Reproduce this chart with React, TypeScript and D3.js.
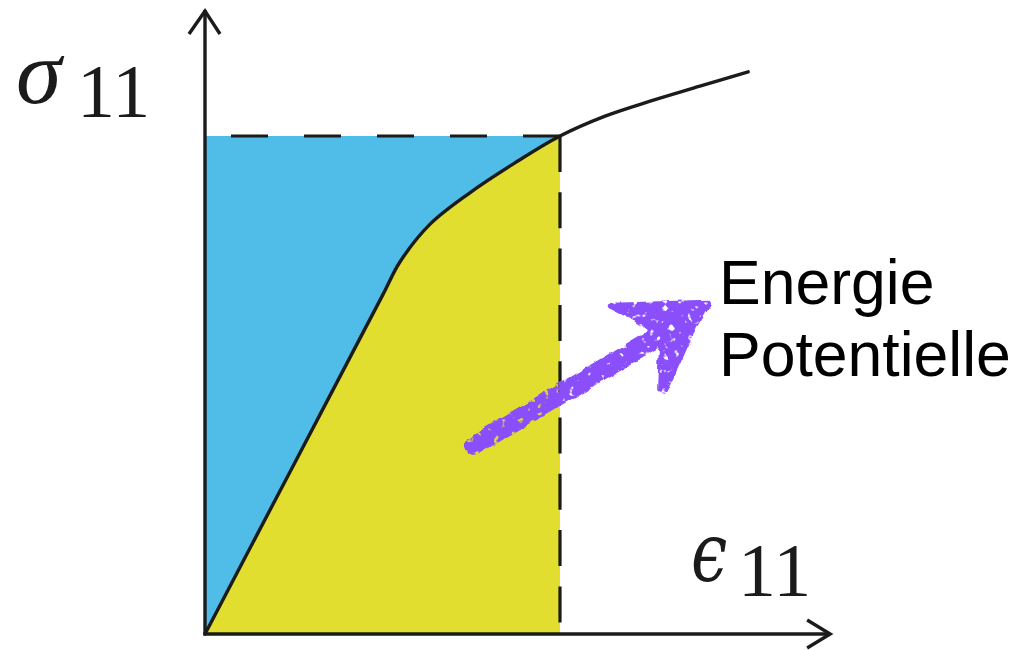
import React from "react";
import * as d3 from "d3";

// Stress–strain curve (normalised units: yield point = (1, 1))
const strain = [0, 0.25, 0.5, 0.549, 0.634, 0.746, 0.873, 1, 1.127, 1.254, 1.394, 1.53];
const stress = [0, 0.34, 0.68, 0.747, 0.823, 0.886, 0.946, 1, 1.04, 1.07, 1.1, 1.129];
const yieldStrain = 1;
const yieldStress = 1;
const axisMaxX = 1.761;
const axisMaxY = 1.253;

// Annotation arrow (data coordinates)
const arrowShaft = [[0.76, 0.38], [1.268, 0.594]];
const arrowHead = [
  [1.146, 0.659], [1.417, 0.665], [1.377, 0.618], [1.338, 0.556], [1.293, 0.488],
  [1.282, 0.494], [1.287, 0.57], [1.259, 0.61], [1.214, 0.635],
];
const annotationLines = ["Energie", "Potentielle"];

const W = 1032;
const H = 650;
const x = d3.scaleLinear().domain([0, 1]).range([205, 560]);
const y = d3.scaleLinear().domain([0, 1]).range([634, 136]);

export default function App() {
  const pts: [number, number][] = strain.map((s, i) => [s, stress[i]]);
  const curve = d3.curveCatmullRom.alpha(0.5);
  const line = d3.line<[number, number]>().x(d => x(d[0])).y(d => y(d[1])).curve(curve);
  const area = d3.area<[number, number]>().x(d => x(d[0])).y0(y(0)).y1(d => y(d[1])).curve(curve);
  const under = pts.filter(p => p[0] <= yieldStrain);
  const ink = "#1b1b1b";
  const purple = "#8a4ffb";
  const headPath = "M" + arrowHead.map(p => `${x(p[0])},${y(p[1])}`).join("L") + "Z";
  const x0 = x(0), y0 = y(0);
  const xT = x(axisMaxX), yT = y(axisMaxY);
  return (
    <svg width={W} height={H} style={{ position: "absolute", left: 0, top: 0, background: "#fff" }}>
      <defs>
        <filter id="rough" x="-10%" y="-10%" width="120%" height="120%">
          <feTurbulence type="fractalNoise" baseFrequency="0.07" numOctaves="2" seed="3" result="n" />
          <feDisplacementMap in="SourceGraphic" in2="n" scale="6" xChannelSelector="R" yChannelSelector="G" result="d" />
          <feTurbulence type="fractalNoise" baseFrequency="0.16" numOctaves="2" seed="7" result="n2" />
          <feColorMatrix in="n2" type="matrix" values="0 0 0 0 0  0 0 0 0 0  0 0 0 0 0  -8 0 0 0 6" result="holes" />
          <feComposite in="d" in2="holes" operator="in" />
        </filter>
      </defs>
      {/* blue rectangle */}
      <rect x={x(0)} y={y(yieldStress)} width={x(yieldStrain) - x(0)} height={y(0) - y(yieldStress)} fill="#50bde9" />
      {/* yellow area under curve */}
      <path d={area(under) || ""} fill="#e1de2f" />
      {/* dashed lines */}
      <line x1={x(yieldStrain)} y1={y(yieldStress)} x2={x(0)} y2={y(yieldStress)} stroke={ink} strokeWidth={3.2} strokeDasharray="37 36" />
      <line x1={x(yieldStrain)} y1={y(yieldStress)} x2={x(yieldStrain)} y2={y(0)} stroke={ink} strokeWidth={3.2} strokeDasharray="36 20.3" />
      {/* curve */}
      <path d={line(pts) || ""} fill="none" stroke={ink} strokeWidth={3.4} strokeLinejoin="round" strokeLinecap="round" />
      {/* axes */}
      <g stroke={ink} strokeWidth={3.4} fill="none" strokeLinecap="butt">
        <line x1={x0} y1={y0} x2={x0} y2={yT} />
        <polyline points={`${x0 - 16},${yT + 24} ${x0},${yT + 1} ${x0 + 15},${yT + 24}`} />
        <line x1={x0 - 1.7} y1={y0} x2={xT} y2={y0} />
        <polyline points={`${xT - 23},${y0 - 14} ${xT},${y0} ${xT - 23},${y0 + 14}`} />
      </g>
      {/* arrow annotation */}
      <g filter="url(#rough)" fill={purple} stroke={purple}>
        <line x1={x(arrowShaft[0][0])} y1={y(arrowShaft[0][1])} x2={x(arrowShaft[1][0])} y2={y(arrowShaft[1][1])} strokeWidth={20} strokeLinecap="round" />
        <path d={headPath} strokeWidth={6} strokeLinejoin="round" />
      </g>
      {/* labels */}
      <text x={16} y={103} fontFamily="'Liberation Serif', serif" fontStyle="italic" fontSize={92} fill={ink}>σ</text>
      <text x={77} y={117} fontFamily="'Liberation Serif', serif" fontSize={76} fill={ink}>11</text>
      <g transform="translate(691,581) scale(0.9,1.14)">
        <text x={0} y={0} fontFamily="'DejaVu Serif', serif" fontStyle="italic" fontSize={72} fill={ink}>ϵ</text>
      </g>
      <text x={738} y={596} fontFamily="'Liberation Serif', serif" fontSize={76} fill={ink}>11</text>
      {annotationLines.map((t, i) => (
        <text key={t} x={719} y={304 + i * 72} fontFamily="'Liberation Sans', Arial, sans-serif" fontSize={62.5} fill="#000">{t}</text>
      ))}
    </svg>
  );
}
